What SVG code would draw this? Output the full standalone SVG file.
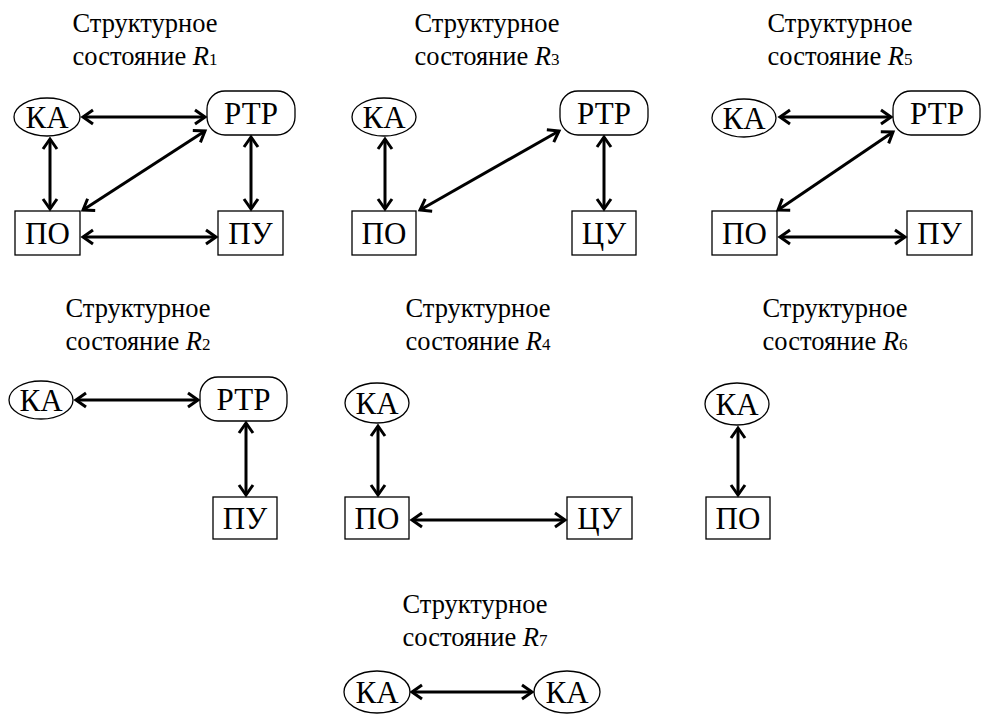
<svg xmlns="http://www.w3.org/2000/svg" width="981" height="715" viewBox="0 0 981 715">
<defs>
<marker id="a" markerUnits="userSpaceOnUse" orient="auto-start-reverse" markerWidth="20" markerHeight="20" refX="0" refY="0" viewBox="-12 -10 14 20" overflow="visible">
<path d="M-10,-7 L0,0 L-10,7" fill="none" stroke="#000" stroke-width="3"/>
</marker>
</defs>
<rect width="981" height="715" fill="#fff"/>
<g id="titles" fill="#000" text-anchor="middle" font-size="26.5" font-family="Times New Roman, Liberation Serif, serif">
<text font-family="Times New Roman, Liberation Serif, serif" x="145" y="32">Структурное</text>
<text font-family="Times New Roman, Liberation Serif, serif" x="145" y="65">состояние <tspan font-style="italic">R</tspan><tspan font-size="17">1</tspan></text>
<text font-family="Times New Roman, Liberation Serif, serif" x="487" y="32">Структурное</text>
<text font-family="Times New Roman, Liberation Serif, serif" x="487" y="65">состояние <tspan font-style="italic">R</tspan><tspan font-size="17">3</tspan></text>
<text font-family="Times New Roman, Liberation Serif, serif" x="840" y="32">Структурное</text>
<text font-family="Times New Roman, Liberation Serif, serif" x="840" y="65">состояние <tspan font-style="italic">R</tspan><tspan font-size="17">5</tspan></text>
<text font-family="Times New Roman, Liberation Serif, serif" x="138" y="317">Структурное</text>
<text font-family="Times New Roman, Liberation Serif, serif" x="138" y="350">состояние <tspan font-style="italic">R</tspan><tspan font-size="17">2</tspan></text>
<text font-family="Times New Roman, Liberation Serif, serif" x="478" y="317">Структурное</text>
<text font-family="Times New Roman, Liberation Serif, serif" x="478" y="350">состояние <tspan font-style="italic">R</tspan><tspan font-size="17">4</tspan></text>
<text font-family="Times New Roman, Liberation Serif, serif" x="835" y="317">Структурное</text>
<text font-family="Times New Roman, Liberation Serif, serif" x="835" y="350">состояние <tspan font-style="italic">R</tspan><tspan font-size="17">6</tspan></text>
<text font-family="Times New Roman, Liberation Serif, serif" x="475" y="613">Структурное</text>
<text font-family="Times New Roman, Liberation Serif, serif" x="475" y="646">состояние <tspan font-style="italic">R</tspan><tspan font-size="17">7</tspan></text>
</g>
<g id="nodes" fill="#fff" stroke="#000" stroke-width="1.3" font-family="Times New Roman, Liberation Serif, serif">
<g id="r1-ka"><ellipse cx="47" cy="117" rx="33" ry="19"/><text font-family="Times New Roman, Liberation Serif, serif" font-size="31" text-anchor="middle" fill="#000" stroke="none" x="47" y="128">КА</text></g>
<g id="r1-rtr"><rect x="207" y="91" width="88" height="44" rx="18"/><text font-family="Times New Roman, Liberation Serif, serif" font-size="31" text-anchor="middle" fill="#000" stroke="none" x="251" y="124">РТР</text></g>
<g id="r1-po"><rect x="15" y="211" width="65" height="44"/><text font-family="Times New Roman, Liberation Serif, serif" font-size="31" text-anchor="middle" fill="#000" stroke="none" x="47.5" y="244">ПО</text></g>
<g id="r1-pu"><rect x="218" y="211" width="65" height="44"/><text font-family="Times New Roman, Liberation Serif, serif" font-size="31" text-anchor="middle" fill="#000" stroke="none" x="250.5" y="244">ПУ</text></g>
<g id="r3-ka"><ellipse cx="384" cy="117" rx="32" ry="19"/><text font-family="Times New Roman, Liberation Serif, serif" font-size="31" text-anchor="middle" fill="#000" stroke="none" x="384" y="128">КА</text></g>
<g id="r3-rtr"><rect x="560" y="91" width="88" height="44" rx="18"/><text font-family="Times New Roman, Liberation Serif, serif" font-size="31" text-anchor="middle" fill="#000" stroke="none" x="604" y="124">РТР</text></g>
<g id="r3-po"><rect x="352" y="211" width="64" height="44"/><text font-family="Times New Roman, Liberation Serif, serif" font-size="31" text-anchor="middle" fill="#000" stroke="none" x="384" y="244">ПО</text></g>
<g id="r3-cu"><rect x="572" y="211" width="64" height="44"/><text font-family="Times New Roman, Liberation Serif, serif" font-size="31" text-anchor="middle" fill="#000" stroke="none" x="604" y="244">ЦУ</text></g>
<g id="r5-ka"><ellipse cx="744" cy="118" rx="32" ry="19"/><text font-family="Times New Roman, Liberation Serif, serif" font-size="31" text-anchor="middle" fill="#000" stroke="none" x="744" y="129">КА</text></g>
<g id="r5-rtr"><rect x="893" y="91" width="87" height="44" rx="18"/><text font-family="Times New Roman, Liberation Serif, serif" font-size="31" text-anchor="middle" fill="#000" stroke="none" x="937" y="124">РТР</text></g>
<g id="r5-po"><rect x="712" y="211" width="65" height="44"/><text font-family="Times New Roman, Liberation Serif, serif" font-size="31" text-anchor="middle" fill="#000" stroke="none" x="744.5" y="244">ПО</text></g>
<g id="r5-pu"><rect x="907" y="211" width="65" height="44"/><text font-family="Times New Roman, Liberation Serif, serif" font-size="31" text-anchor="middle" fill="#000" stroke="none" x="939.5" y="244">ПУ</text></g>
<g id="r2-ka"><ellipse cx="41" cy="400" rx="32" ry="19"/><text font-family="Times New Roman, Liberation Serif, serif" font-size="31" text-anchor="middle" fill="#000" stroke="none" x="41" y="411">КА</text></g>
<g id="r2-rtr"><rect x="200" y="377" width="87" height="44" rx="18"/><text font-family="Times New Roman, Liberation Serif, serif" font-size="31" text-anchor="middle" fill="#000" stroke="none" x="243.5" y="410">РТР</text></g>
<g id="r2-pu"><rect x="213" y="497" width="64" height="42"/><text font-family="Times New Roman, Liberation Serif, serif" font-size="31" text-anchor="middle" fill="#000" stroke="none" x="245" y="529">ПУ</text></g>
<g id="r4-ka"><ellipse cx="377" cy="403" rx="32" ry="20"/><text font-family="Times New Roman, Liberation Serif, serif" font-size="31" text-anchor="middle" fill="#000" stroke="none" x="377" y="414">КА</text></g>
<g id="r4-po"><rect x="345" y="497" width="64" height="42"/><text font-family="Times New Roman, Liberation Serif, serif" font-size="31" text-anchor="middle" fill="#000" stroke="none" x="377" y="529">ПО</text></g>
<g id="r4-cu"><rect x="567" y="497" width="65" height="42"/><text font-family="Times New Roman, Liberation Serif, serif" font-size="31" text-anchor="middle" fill="#000" stroke="none" x="599.5" y="529">ЦУ</text></g>
<g id="r6-ka"><ellipse cx="737" cy="404" rx="32" ry="21"/><text font-family="Times New Roman, Liberation Serif, serif" font-size="31" text-anchor="middle" fill="#000" stroke="none" x="737" y="415">КА</text></g>
<g id="r6-po"><rect x="706" y="497" width="64" height="42"/><text font-family="Times New Roman, Liberation Serif, serif" font-size="31" text-anchor="middle" fill="#000" stroke="none" x="738" y="529">ПО</text></g>
<g id="r7-ka1"><ellipse cx="377" cy="692" rx="33" ry="21"/><text font-family="Times New Roman, Liberation Serif, serif" font-size="31" text-anchor="middle" fill="#000" stroke="none" x="377" y="703">КА</text></g>
<g id="r7-ka2"><ellipse cx="567" cy="692" rx="33" ry="21"/><text font-family="Times New Roman, Liberation Serif, serif" font-size="31" text-anchor="middle" fill="#000" stroke="none" x="567" y="703">КА</text></g>
</g>
<g id="connectors" stroke="#000" stroke-width="3" marker-start="url(#a)" marker-end="url(#a)">
<line x1="83" y1="117" x2="205" y2="117"/>
<line x1="50" y1="139" x2="50" y2="209"/>
<line x1="251" y1="137" x2="251" y2="209"/>
<line x1="83" y1="210" x2="205" y2="131"/>
<line x1="83" y1="237" x2="216" y2="237"/>
<line x1="385" y1="139" x2="385" y2="209"/>
<line x1="604" y1="137" x2="604" y2="209"/>
<line x1="420" y1="210" x2="559" y2="131"/>
<line x1="780" y1="117" x2="891" y2="117"/>
<line x1="778" y1="210" x2="893" y2="132"/>
<line x1="780" y1="237" x2="905" y2="237"/>
<line x1="76" y1="400" x2="198" y2="400"/>
<line x1="246" y1="423" x2="246" y2="495"/>
<line x1="378" y1="426" x2="378" y2="495"/>
<line x1="412" y1="520" x2="565" y2="520"/>
<line x1="738" y1="428" x2="738" y2="495"/>
<line x1="412" y1="692" x2="532" y2="692"/>
</g>
</svg>
